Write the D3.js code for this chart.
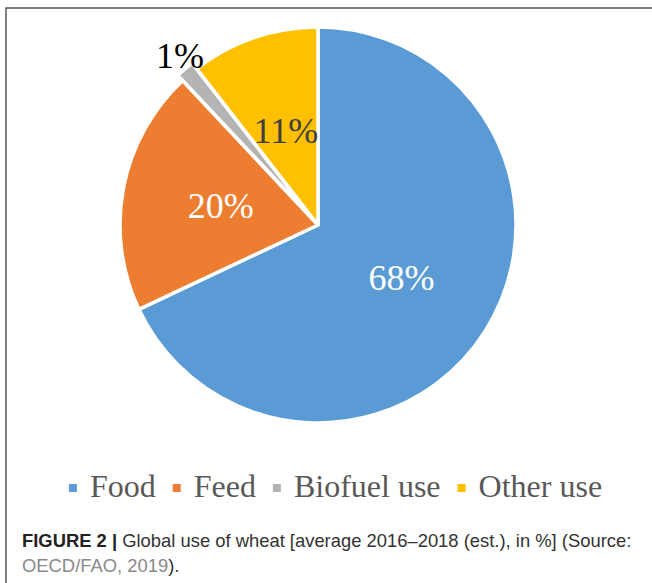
<!DOCTYPE html>
<html>

<head>
    <meta charset="utf-8">
    <style>
        body {
            margin: 0;
            background: #fff;
        }

        .slice-label {
            font-family: "Liberation Serif", "Times New Roman", serif;
            font-size: 36px;
            text-anchor: middle;
        }

        .legend-text {
            font-family: "Liberation Serif", "Times New Roman", serif;
            font-size: 32px;
            fill: #595959;
        }

        .caption {
            font-family: "Liberation Sans", Arial, sans-serif;
            font-size: 18.4px;
            fill: #333;
        }
    </style>
    <script src="https://d3js.org/d3.v7.min.js"></script>
</head>

<body>
    <svg width="652" height="583"></svg>
    <script>
        // data (slice sizes as drawn, labels as printed)
        var categories = ["Food", "Feed", "Biofuel use", "Other use"];
        var shares = [68, 20, 1.5, 10.5];
        var labels = ["68%", "20%", "1%", "11%"];
        var colors = ["#5b9bd5", "#ed7d31", "#b4b4b4", "#ffc000"];
        var labelColors = ["#fff", "#fff", "#000", "#404040"];

        var svg = d3.select("svg"),
            cx = 318,
            cy = 225,
            radius = 198;

        // frame lines (top and left)
        svg.append("path")
            .attr("d", "M6,583V8H652")
            .attr("fill", "none")
            .attr("stroke", "#555")
            .attr("stroke-width", 1.5);

        var data = categories.map(function (c, i) {
            return { name: c, value: shares[i], label: labels[i], color: colors[i], labelColor: labelColors[i] };
        });

        var pie = d3.pie().sort(null).value(function (d) { return d.value; });
        var arc = d3.arc().innerRadius(0).outerRadius(radius);
        var labelArc = d3.arc().innerRadius(radius * 0.5).outerRadius(radius * 0.5);
        var outerLabelArc = d3.arc().innerRadius(radius * 1.12).outerRadius(radius * 1.12);

        var g = svg.append("g")
            .attr("transform", "translate(" + cx + "," + cy + ")");

        var arcs = pie(data);

        // the biofuel slice is pulled out a little
        function offset(d) {
            if (d.data.name !== "Biofuel use") return "translate(0,0)";
            var a = (d.startAngle + d.endAngle) / 2;
            return "translate(" + (Math.sin(a) * 7) + "," + (-Math.cos(a) * 7) + ")";
        }

        g.selectAll(".slice")
            .data(arcs)
            .enter().append("path")
            .attr("class", "slice")
            .attr("d", arc)
            .attr("transform", offset)
            .attr("fill", function (d) { return d.data.color; })
            .attr("stroke", "#fff")
            .attr("stroke-width", 3.5)
            .attr("stroke-linejoin", "round");

        g.selectAll(".slice-label")
            .data(arcs)
            .enter().append("text")
            .attr("class", "slice-label")
            .attr("transform", function (d) {
                var p = d.data.name === "Biofuel use" ? outerLabelArc.centroid(d) : labelArc.centroid(d);
                var dx = d.data.name === "Biofuel use" ? 6 : 0;
                return "translate(" + (p[0] + dx) + "," + (p[1] + 12) + ")";
            })
            .attr("fill", function (d) { return d.data.labelColor; })
            .text(function (d) { return d.data.label; });

        // legend, centred under the pie
        var legend = svg.append("g");
        var lx = 0;
        data.forEach(function (d) {
            var item = legend.append("g").attr("transform", "translate(" + lx + ",0)");
            item.append("rect")
                .attr("x", 0)
                .attr("y", -13)
                .attr("width", 8)
                .attr("height", 8)
                .attr("fill", d.color);
            var t = item.append("text")
                .attr("class", "legend-text")
                .attr("x", 21)
                .attr("y", 0)
                .text(d.name);
            lx += 21 + t.node().getComputedTextLength() + 17;
        });
        var legendWidth = lx - 17;
        legend.attr("transform", "translate(" + (335.5 - legendWidth / 2) + ",497)");

        // caption
        var cap1 = svg.append("text")
            .attr("class", "caption")
            .attr("x", 22)
            .attr("y", 547);
        cap1.append("tspan").attr("font-weight", "bold").attr("fill", "#222").text("FIGURE 2 | ");
        cap1.append("tspan").text("Global use of wheat [average 2016–2018 (est.), in %] (Source:");

        var cap2 = svg.append("text")
            .attr("class", "caption")
            .attr("x", 22)
            .attr("y", 572);
        cap2.append("tspan").attr("fill", "#8a8a8a").text("OECD/FAO, 2019");
        cap2.append("tspan").text(").");
    </script>
</body>

</html>
